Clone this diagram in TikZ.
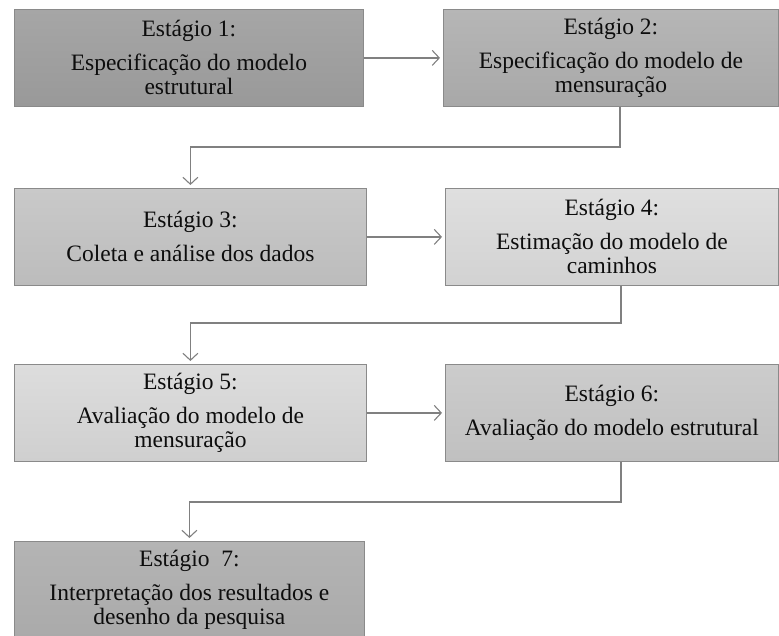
\documentclass[tikz,border=0pt]{standalone}
\usepackage{fontspec}
\setmainfont{Liberation Serif}
\usetikzlibrary{arrows.meta}
\definecolor{edge}{HTML}{8A8A8A}
\definecolor{wire}{HTML}{808080}
\definecolor{s1t}{HTML}{A6A6A6}\definecolor{s1b}{HTML}{999999}
\definecolor{s2t}{HTML}{B6B6B6}\definecolor{s2b}{HTML}{A8A8A8}
\definecolor{s3t}{HTML}{C9C9C9}\definecolor{s3b}{HTML}{BCBCBC}
\definecolor{s4t}{HTML}{DFDFDF}\definecolor{s4b}{HTML}{D2D2D2}
\definecolor{s5t}{HTML}{DDDDDD}\definecolor{s5b}{HTML}{CFCFCF}
\definecolor{s6t}{HTML}{CCCCCC}\definecolor{s6b}{HTML}{C0C0C0}
\definecolor{s7t}{HTML}{B4B4B4}\definecolor{s7b}{HTML}{AAAAAA}
\tikzset{
  stage/.style n args={2}{rectangle, anchor=north west, inner sep=0pt,
    draw=edge, line width=0.8pt, top color=#1, bottom color=#2,
    align=center, font=\fontsize{23.5}{24}\selectfont, text=black!95},
  arr/.style={draw=wire, line width=1.2pt,
    -{Straight Barb[length=7pt,width=15pt,line width=1.1pt]}, shorten >=3pt},
}
\begin{document}
\begin{tikzpicture}[x=1pt,y=-1pt]
\useasboundingbox (0,0) rectangle (779,635);
\clip (0,0) rectangle (779,635);

% stage boxes
\node[stage={s1t}{s1b}, minimum width=349pt, minimum height=97pt] (b1) at (14,9)
  {Estágio 1:\\[10pt]Especificação do modelo\\estrutural};
\node[stage={s2t}{s2b}, minimum width=335pt, minimum height=97pt] (b2) at (443,9)
  {Estágio 2:\\[10pt]Especificação do modelo de\\mensuração};
\node[stage={s3t}{s3b}, minimum width=352pt, minimum height=97pt] (b3) at (14,188)
  {Estágio 3:\\[10pt]Coleta e análise dos dados};
\node[stage={s4t}{s4b}, minimum width=333pt, minimum height=97pt] (b4) at (445,188)
  {Estágio 4:\\[10pt]Estimação do modelo de\\caminhos};
\node[stage={s5t}{s5b}, minimum width=352pt, minimum height=97pt] (b5) at (14,364)
  {Estágio 5:\\[10pt]Avaliação do modelo de\\mensuração};
\node[stage={s6t}{s6b}, minimum width=333pt, minimum height=97pt] (b6) at (445,364)
  {Estágio 6:\\[10pt]Avaliação do modelo estrutural};
\node[stage={s7t}{s7b}, minimum width=350pt, minimum height=97pt] (b7) at (14,541)
  {Estágio~~7:\\[10pt]Interpretação dos resultados e\\desenho da pesquisa};

% elbow levels between the rows
\coordinate (k1) at (0,147);
\coordinate (k2) at (0,323);
\coordinate (k3) at (0,502);

% connectors
\draw[arr] (b1.east) -- (b2.west);
\draw[arr] ([xshift=9pt]b2.south) |- (k1 -| b3.north) -- (b3.north);
\draw[arr] (b3.east) -- (b4.west);
\draw[arr] ([xshift=9pt]b4.south) |- (k2 -| b5.north) -- (b5.north);
\draw[arr] (b5.east) -- (b6.west);
\draw[arr] ([xshift=9pt]b6.south) |- (k3 -| b7.north) -- (b7.north);
\end{tikzpicture}
\end{document}
